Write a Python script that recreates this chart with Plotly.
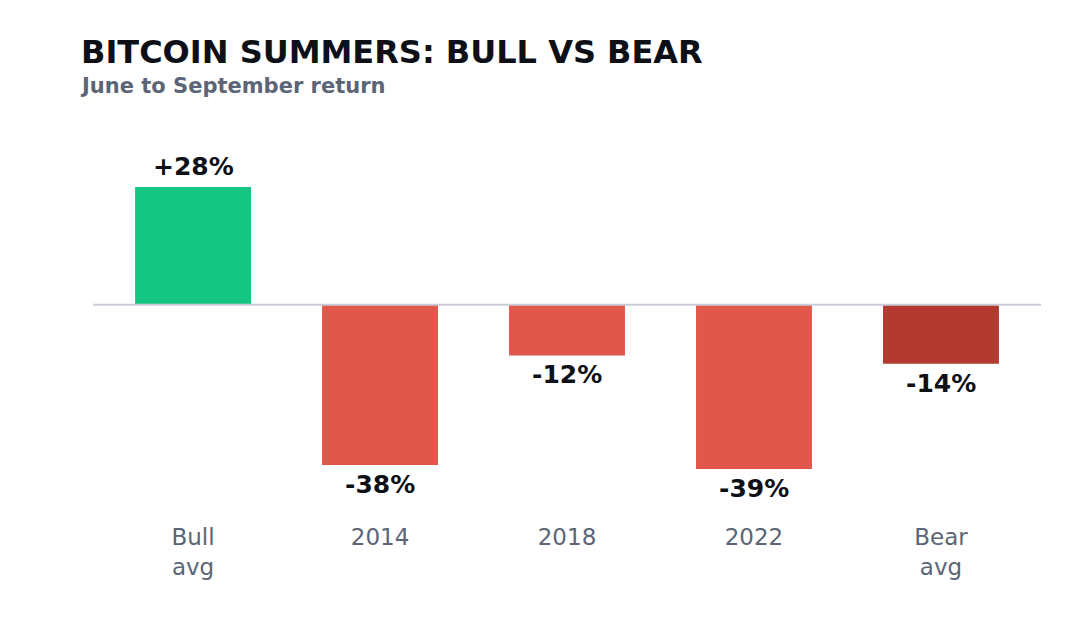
import plotly.graph_objects as go

categories = ["Bull<br>avg", "2014", "2018", "2022", "Bear<br>avg"]
values = [28, -38, -12, -39, -14]
labels = ["+28%", "-38%", "-12%", "-39%", "-14%"]
colors = ["#16c784", "#e1574b", "#e1574b", "#e1574b", "#b33a30"]

W, H = 1080, 620
ml, mr, mt, mb = 93, 39, 120, 105
pw = W - ml - mr

fig = go.Figure(go.Bar(
    x=categories, y=values,
    marker=dict(color=colors, line=dict(width=0)),
    cliponaxis=False, width=0.62,
))

for i, (v, t) in enumerate(zip(values, labels)):
    fig.add_annotation(x=i, y=v, text=f"<b>{t}</b>", showarrow=False,
                       yanchor="bottom" if v >= 0 else "top",
                       yshift=4 if v >= 0 else -3,
                       font=dict(family="DejaVu Sans", size=25, color="#0d1117"))

fig.add_shape(type="line", xref="paper", yref="y", x0=0, x1=1, y0=0, y1=0,
              line=dict(color="#c8cdd8", width=2), layer="above")

fig.add_annotation(text="<b>June to September return</b>", xref="paper", yref="paper",
                   x=(78 - ml) / pw, xanchor="left",
                   y=1 + (mt - 86) / (H - mt - mb), yanchor="middle", showarrow=False,
                   font=dict(family="DejaVu Sans", size=21, color="#5b6577"))

fig.update_layout(
    width=W, height=H,
    margin=dict(l=ml, r=mr, t=mt, b=mb),
    paper_bgcolor="white", plot_bgcolor="white",
    showlegend=False,
    title=dict(text="<b>BITCOIN SUMMERS: BULL VS BEAR</b>", xref="container", yref="container",
               x=81 / W, xanchor="left", y=1 - 52 / H, yanchor="middle",
               font=dict(family="DejaVu Sans", size=32, color="#0d1117")),
    xaxis=dict(range=[-0.535, 4.535], showgrid=False, zeroline=False, showline=False,
               ticks="", ticklabelstandoff=6,
               tickfont=dict(family="DejaVu Sans", size=23, color="#5b6577")),
    yaxis=dict(range=[-49.9, 43.9], visible=False, showgrid=False, zeroline=False),
)

fig.write_html("out.html")
